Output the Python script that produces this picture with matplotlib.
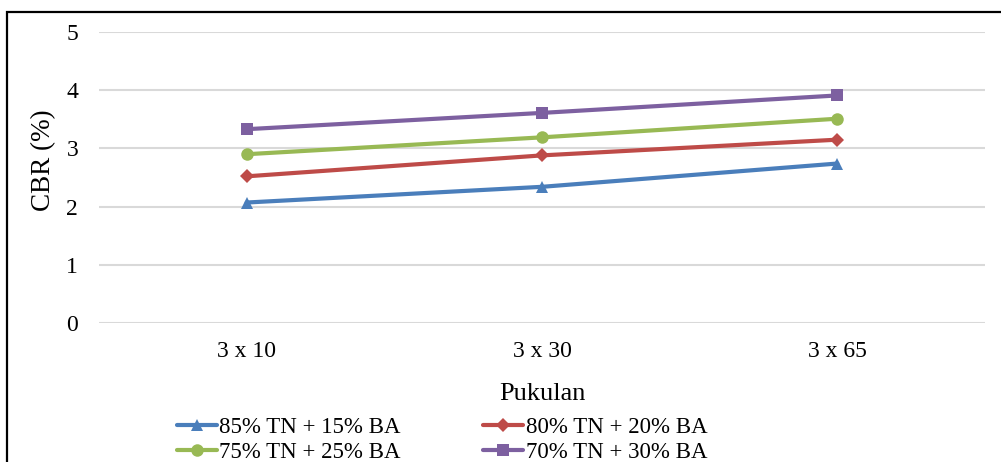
import matplotlib
matplotlib.use("Agg")
import matplotlib.pyplot as plt
from matplotlib.patches import Rectangle

categories = ["3 x 10", "3 x 30", "3 x 65"]
series_names = ["85% TN + 15% BA", "80% TN + 20% BA", "75% TN + 25% BA", "70% TN + 30% BA"]
s85 = [2.07, 2.34, 2.74]
s80 = [2.52, 2.88, 3.15]
s75 = [2.90, 3.19, 3.51]
s70 = [3.33, 3.61, 3.91]
yticks = [0, 1, 2, 3, 4, 5]

colors = ["#4A7EBB", "#BE4B48", "#98B954", "#7D60A0"]
markers = ["^", "D", "o", "s"]
msizes = [9, 7, 9, 8.5]

plt.rcParams['font.family'] = ['Liberation Serif', 'DejaVu Serif']

fig = plt.figure(figsize=(10.01, 4.62), dpi=100)
ax = fig.add_axes([99/1001, 1 - 323/462, (985-99)/1001, (323-32)/462])

x = list(range(len(categories)))
lines = []
for vals, name, c, m, ms in zip([s85, s80, s75, s70], series_names, colors, markers, msizes):
    ln, = ax.plot(x, vals, color=c, lw=3, marker=m, markersize=ms, label=name,
                  markeredgewidth=0, solid_capstyle='round', zorder=3)
    lines.append(ln)

ax.set_xlim(-0.5, 2.5)
ax.set_ylim(0, 5)
ax.set_yticks(yticks)
ax.set_xticks(x)
ax.set_xticklabels(categories)
ax.tick_params(axis='both', length=0, labelsize=17, colors='black')
ax.tick_params(axis='y', pad=15)
ax.tick_params(axis='x', pad=13)
ax.grid(axis='y', color='#D9D9D9', lw=1.5, zorder=0)
for s in ax.spines.values():
    s.set_visible(False)

ax.set_ylabel("CBR (%)", fontsize=19.5)
ax.yaxis.set_label_coords(-43/886, (323-160)/291)
ax.set_xlabel("Pukulan", fontsize=19, labelpad=15)

order = [0, 2, 1, 3]
leg = fig.legend([lines[i] for i in order], [series_names[i] for i in order],
                 loc='center', bbox_to_anchor=(442/1001, 1 - 440/462), ncol=2,
                 fontsize=16.5, frameon=False, columnspacing=3.6,
                 handlelength=1.75, handletextpad=0.1, labelspacing=0.15,
                 borderpad=0.2)

# outer frame (partially cropped)
fig.patches.append(Rectangle((7/1001, -0.1), 1.2, 1 - 12/462 + 0.1,
                             transform=fig.transFigure, fill=False,
                             edgecolor='black', lw=1.6, zorder=10))

fig.savefig("out.png", dpi=100)
